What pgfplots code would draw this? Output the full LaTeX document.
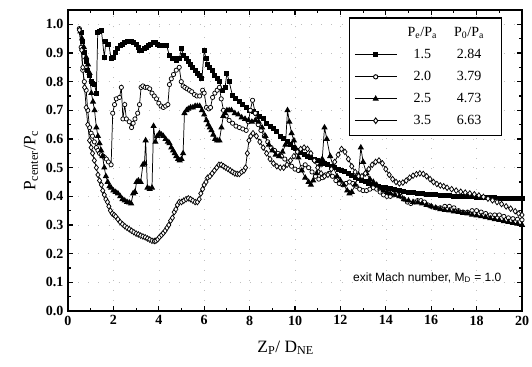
\documentclass[border=0pt]{standalone}
\usepackage{fontspec}
\setmainfont{Liberation Serif}
\newfontfamily\sansf{Liberation Sans}
\usepackage{pgfplots}
\pgfplotsset{compat=1.18}
\begin{document}
\begin{tikzpicture}
\begin{axis}[name=ax, scale only axis, width=340.5pt, height=225.75pt,
 xmin=0, xmax=20, ymin=0, ymax=1.05,
 xtick={0,2,4,6,8,10,12,14,16,18,20}, minor x tick num=1,
 ytick={0,0.1,0.2,0.3,0.4,0.5,0.6,0.7,0.8,0.9,1.0}, minor y tick num=1,
 tick align=inside, major tick length=4pt, minor tick length=2.5pt,
 axis line style={line width=1pt}, tick style={line width=0.8pt, black},
 grid=major, grid style={dash pattern=on 0.6pt off 7pt, gray!50},
 /pgf/number format/assume math mode=true,
 ticklabel style={font=\bfseries\fontsize{10.5}{12}\selectfont},
 yticklabel style={/pgf/number format/.cd,fixed,fixed zerofill,precision=1},
 xticklabel style={/pgf/number format/.cd,fixed,precision=0},
 xlabel={Z\textsubscript{P}/ D\textsubscript{NE}},
 ylabel={P\textsubscript{center}/P\textsubscript{c}},
 label style={font=\fontsize{13}{15}\selectfont},
 xlabel style={xshift=-7pt, yshift=-5pt},
 ylabel style={yshift=-1pt},
 legend style={at={(axis cs:19.1,1.024)}, anchor=north east, draw=black, line width=0.8pt,
   font=\fontsize{10.5}{12}\selectfont, row sep=4pt, inner xsep=4pt, inner ysep=5pt},
 legend cell align=left,
 legend image code/.code={\draw[mark repeat=2,mark phase=2,line width=0.7pt] plot coordinates {(0cm,0cm) (0.55cm,0cm) (1.1cm,0cm)};},
 every axis plot/.append style={black, line width=0.55pt, mark size=1.5pt, mark options={solid, line width=0.75pt}},
]
\addlegendimage{empty legend}
\addlegendentry{\makebox[34pt][c]{P\textsubscript{e}/P\textsubscript{a}}\makebox[36pt][c]{P\textsubscript{0}/P\textsubscript{a}}}

\addplot[mark=square*, mark size=1.5pt] coordinates {
(0.58,0.97)(0.65,0.94)(0.73,0.90)(0.8,0.87)(0.87,0.84)(0.95,0.82)(1.03,0.80)(1.1,0.795)(1.17,0.79)(1.25,0.76)(1.31,0.97)(1.39,0.975)(1.47,0.98)(1.6,0.885)(1.67,0.94)(1.8,0.93)(1.9,0.88)(2.0,0.885)(2.1,0.90)(2.2,0.915)(2.3,0.925)(2.4,0.93)(2.5,0.935)(2.6,0.94)(2.7,0.94)(2.8,0.94)(2.9,0.935)(3.0,0.93)(3.1,0.92)(3.15,0.91)(3.25,0.91)(3.35,0.915)(3.45,0.92)(3.55,0.925)(3.65,0.93)(3.75,0.935)(3.85,0.935)(3.95,0.93)(4.05,0.925)(4.15,0.925)(4.25,0.925)(4.35,0.925)(4.47,0.89)(4.6,0.88)(4.7,0.88)(4.8,0.875)(4.9,0.88)(5.0,0.915)(5.1,0.89)(5.2,0.88)(5.3,0.87)(5.4,0.86)(5.5,0.85)(5.6,0.84)(5.7,0.83)(5.8,0.82)(5.9,0.81)(6.0,0.91)(6.08,0.88)(6.15,0.86)(6.25,0.85)(6.37,0.84)(6.47,0.82)(6.57,0.81)(6.67,0.80)(6.8,0.77)(6.92,0.78)(7.0,0.83)(7.1,0.80)(7.25,0.75)(7.4,0.74)(7.55,0.73)(7.7,0.72)(7.85,0.71)(8.0,0.70)(8.15,0.695)(8.3,0.69)(8.45,0.68)(8.6,0.67)(8.75,0.655)(8.9,0.645)(9.05,0.635)(9.2,0.625)(9.35,0.61)(9.5,0.60)(9.65,0.59)(9.8,0.58)(9.95,0.57)(10.1,0.56)(10.25,0.553)(10.4,0.545)(10.55,0.54)(10.7,0.535)(10.85,0.53)(11.0,0.525)(11.15,0.52)(11.3,0.515)(11.45,0.51)(11.6,0.505)(11.75,0.50)(11.9,0.495)(12.05,0.49)(12.2,0.485)(12.35,0.478)(12.5,0.472)(12.65,0.467)(12.8,0.461)(12.95,0.456)(13.1,0.451)(13.25,0.446)(13.4,0.442)(13.55,0.438)(13.7,0.435)(13.85,0.432)(14.0,0.43)(14.2,0.427)(14.4,0.424)(14.6,0.421)(14.8,0.418)(15.0,0.415)(15.2,0.413)(15.4,0.411)(15.6,0.409)(15.8,0.407)(16.0,0.406)(16.2,0.405)(16.4,0.404)(16.6,0.403)(16.8,0.402)(17.0,0.401)(17.2,0.40)(17.4,0.40)(17.6,0.399)(17.8,0.398)(18.0,0.397)(18.2,0.397)(18.4,0.396)(18.6,0.395)(18.8,0.395)(19.0,0.394)(19.2,0.393)(19.4,0.393)(19.6,0.392)(19.8,0.392)(20.0,0.391)
};
\addlegendentry{\makebox[34pt][c]{1.5}\makebox[36pt][c]{2.84}}

\addplot[mark=*, mark size=1.6pt, mark options={fill=white}] coordinates {
(0.5,0.985)(0.58,0.92)(0.65,0.84)(0.72,0.80)(0.8,0.77)(0.87,0.70)(0.95,0.64)(1.02,0.62)(1.08,0.61)(1.16,0.59)(1.25,0.57)(1.32,0.56)(1.39,0.55)(1.47,0.545)(1.55,0.54)(1.62,0.535)(1.69,0.53)(1.78,0.52)(1.9,0.51)(1.97,0.69)(2.05,0.72)(2.13,0.74)(2.27,0.745)(2.35,0.78)(2.42,0.67)(2.5,0.72)(2.57,0.67)(2.7,0.66)(2.8,0.64)(2.87,0.655)(2.95,0.67)(3.07,0.69)(3.15,0.72)(3.22,0.78)(3.3,0.785)(3.4,0.78)(3.5,0.78)(3.6,0.775)(3.7,0.76)(3.8,0.75)(3.9,0.74)(4.0,0.725)(4.1,0.715)(4.2,0.71)(4.3,0.715)(4.4,0.72)(4.47,0.79)(4.55,0.81)(4.65,0.825)(4.77,0.84)(4.9,0.85)(4.99,0.80)(5.07,0.785)(5.15,0.78)(5.25,0.775)(5.35,0.77)(5.45,0.765)(5.57,0.755)(5.68,0.75)(5.8,0.75)(5.93,0.77)(6.0,0.76)(6.1,0.71)(6.2,0.705)(6.28,0.71)(6.37,0.745)(6.47,0.76)(6.57,0.77)(6.67,0.78)(6.75,0.74)(6.85,0.70)(6.97,0.68)(7.1,0.665)(7.25,0.655)(7.4,0.645)(7.55,0.64)(7.7,0.635)(7.85,0.63)(7.95,0.66)(8.03,0.70)(8.13,0.735)(8.25,0.69)(8.38,0.65)(8.5,0.63)(8.65,0.61)(8.8,0.59)(8.95,0.57)(9.1,0.56)(9.25,0.55)(9.4,0.54)(9.55,0.53)(9.7,0.52)(9.85,0.505)(10.0,0.495)(10.15,0.49)(10.3,0.50)(10.45,0.51)(10.6,0.50)(10.75,0.485)(10.9,0.47)(11.05,0.46)(11.2,0.465)(11.35,0.475)(11.5,0.48)(11.65,0.47)(11.8,0.455)(11.95,0.445)(12.1,0.44)(12.25,0.445)(12.4,0.45)(12.55,0.445)(12.7,0.435)(12.85,0.425)(13.0,0.42)(13.15,0.42)(13.3,0.425)(13.45,0.43)(13.6,0.425)(13.75,0.415)(13.9,0.405)(14.05,0.40)(14.2,0.40)(14.35,0.405)(14.5,0.405)(14.65,0.40)(14.8,0.39)(14.95,0.38)(15.1,0.375)(15.25,0.38)(15.4,0.385)(15.55,0.385)(15.7,0.38)(15.85,0.37)(16.0,0.365)(16.2,0.36)(16.4,0.36)(16.6,0.365)(16.8,0.365)(17.0,0.36)(17.2,0.35)(17.4,0.345)(17.6,0.345)(17.8,0.35)(18.0,0.35)(18.2,0.345)(18.4,0.34)(18.6,0.335)(18.8,0.335)(19.0,0.335)(19.2,0.33)(19.4,0.325)(19.6,0.322)(19.8,0.32)(20.0,0.318)
};
\addlegendentry{\makebox[34pt][c]{2.0}\makebox[36pt][c]{3.79}}

\addplot[mark=triangle*, mark size=2.0pt] coordinates {
(0.55,0.975)(0.62,0.95)(0.7,0.92)(0.8,0.885)(0.88,0.86)(0.95,0.83)(1.03,0.76)(1.1,0.73)(1.17,0.70)(1.25,0.64)(1.32,0.61)(1.39,0.585)(1.46,0.56)(1.52,0.54)(1.6,0.50)(1.67,0.47)(1.75,0.45)(1.83,0.435)(1.9,0.43)(2.0,0.42)(2.1,0.415)(2.2,0.41)(2.3,0.40)(2.4,0.39)(2.5,0.385)(2.6,0.38)(2.7,0.378)(2.78,0.375)(2.87,0.41)(2.95,0.415)(3.02,0.45)(3.1,0.455)(3.2,0.45)(3.3,0.51)(3.37,0.515)(3.42,0.595)(3.5,0.43)(3.6,0.425)(3.7,0.43)(3.77,0.645)(3.85,0.59)(3.93,0.61)(4.03,0.62)(4.12,0.615)(4.2,0.61)(4.3,0.60)(4.4,0.59)(4.47,0.585)(4.55,0.57)(4.63,0.56)(4.7,0.55)(4.77,0.54)(4.85,0.53)(4.92,0.525)(5.0,0.53)(5.07,0.55)(5.13,0.69)(5.22,0.70)(5.3,0.705)(5.4,0.71)(5.5,0.71)(5.6,0.715)(5.7,0.715)(5.8,0.715)(5.9,0.70)(6.0,0.685)(6.1,0.665)(6.18,0.65)(6.25,0.64)(6.32,0.63)(6.4,0.615)(6.48,0.60)(6.57,0.595)(6.67,0.595)(6.76,0.64)(6.84,0.68)(6.92,0.69)(7.0,0.70)(7.1,0.70)(7.2,0.70)(7.35,0.69)(7.5,0.685)(7.65,0.675)(7.8,0.67)(7.95,0.665)(8.1,0.66)(8.25,0.665)(8.4,0.66)(8.55,0.64)(8.7,0.61)(8.85,0.58)(9.0,0.56)(9.15,0.545)(9.3,0.54)(9.45,0.555)(9.58,0.58)(9.67,0.70)(9.75,0.66)(9.85,0.62)(9.95,0.595)(10.05,0.565)(10.15,0.535)(10.3,0.49)(10.45,0.465)(10.6,0.45)(10.7,0.44)(10.8,0.455)(10.95,0.48)(11.1,0.51)(11.2,0.53)(11.3,0.64)(11.4,0.60)(11.55,0.54)(11.7,0.50)(11.85,0.47)(12.0,0.455)(12.15,0.44)(12.3,0.42)(12.4,0.41)(12.5,0.415)(12.65,0.44)(12.8,0.475)(12.9,0.57)(13.0,0.52)(13.15,0.48)(13.3,0.46)(13.45,0.45)(13.6,0.44)(13.75,0.43)(13.9,0.42)(14.05,0.415)(14.2,0.41)(14.4,0.405)(14.6,0.40)(14.8,0.39)(15.0,0.385)(15.2,0.38)(15.4,0.378)(15.6,0.375)(15.8,0.37)(16.0,0.365)(16.2,0.36)(16.4,0.355)(16.6,0.352)(16.8,0.35)(17.0,0.347)(17.2,0.345)(17.4,0.342)(17.6,0.34)(17.8,0.336)(18.0,0.333)(18.2,0.33)(18.4,0.327)(18.6,0.323)(18.8,0.32)(19.0,0.317)(19.2,0.313)(19.4,0.31)(19.6,0.307)(19.8,0.304)(20.0,0.30)
};
\addlegendentry{\makebox[34pt][c]{2.5}\makebox[36pt][c]{4.73}}

\addplot[mark=diamond*, mark size=2.1pt, mark options={fill=white}] coordinates {
(0.5,0.98)(0.6,0.91)(0.65,0.85)(0.73,0.78)(0.8,0.71)(0.87,0.65)(0.95,0.595)(1.02,0.57)(1.08,0.55)(1.16,0.525)(1.25,0.50)(1.32,0.475)(1.39,0.455)(1.47,0.44)(1.53,0.42)(1.6,0.405)(1.67,0.39)(1.74,0.38)(1.8,0.365)(1.87,0.35)(1.95,0.34)(2.03,0.335)(2.1,0.33)(2.2,0.32)(2.3,0.31)(2.4,0.303)(2.5,0.296)(2.6,0.29)(2.7,0.285)(2.8,0.28)(2.9,0.275)(3.0,0.27)(3.1,0.267)(3.2,0.263)(3.3,0.26)(3.4,0.257)(3.5,0.253)(3.6,0.249)(3.7,0.245)(3.8,0.244)(3.87,0.245)(3.95,0.25)(4.03,0.258)(4.12,0.265)(4.2,0.272)(4.28,0.28)(4.36,0.29)(4.44,0.30)(4.52,0.315)(4.6,0.325)(4.68,0.345)(4.75,0.355)(4.82,0.37)(4.9,0.38)(5.0,0.38)(5.1,0.385)(5.2,0.39)(5.3,0.393)(5.4,0.39)(5.5,0.385)(5.6,0.38)(5.7,0.38)(5.78,0.39)(5.85,0.41)(5.93,0.425)(6.0,0.44)(6.08,0.45)(6.15,0.465)(6.25,0.47)(6.35,0.48)(6.45,0.49)(6.55,0.50)(6.65,0.51)(6.75,0.51)(6.85,0.505)(6.95,0.50)(7.05,0.495)(7.15,0.49)(7.25,0.485)(7.35,0.48)(7.45,0.478)(7.55,0.478)(7.65,0.485)(7.75,0.49)(7.82,0.50)(7.9,0.55)(7.97,0.595)(8.05,0.61)(8.15,0.62)(8.3,0.61)(8.45,0.59)(8.6,0.57)(8.75,0.55)(8.9,0.53)(9.05,0.515)(9.2,0.505)(9.35,0.50)(9.5,0.50)(9.65,0.51)(9.8,0.525)(9.95,0.54)(10.1,0.555)(10.25,0.565)(10.4,0.57)(10.55,0.565)(10.7,0.55)(10.85,0.525)(11.0,0.50)(11.15,0.48)(11.3,0.47)(11.45,0.475)(11.6,0.495)(11.75,0.52)(11.9,0.545)(12.05,0.565)(12.2,0.555)(12.35,0.53)(12.5,0.505)(12.65,0.485)(12.8,0.47)(12.95,0.47)(13.1,0.48)(13.25,0.495)(13.4,0.51)(13.55,0.52)(13.7,0.525)(13.85,0.515)(14.0,0.495)(14.15,0.475)(14.3,0.46)(14.45,0.45)(14.6,0.445)(14.75,0.448)(14.9,0.455)(15.05,0.465)(15.2,0.472)(15.35,0.477)(15.5,0.48)(15.65,0.478)(15.8,0.47)(15.95,0.46)(16.1,0.45)(16.25,0.443)(16.4,0.438)(16.55,0.435)(16.7,0.43)(16.9,0.425)(17.1,0.42)(17.3,0.416)(17.5,0.413)(17.7,0.41)(17.9,0.407)(18.1,0.403)(18.3,0.398)(18.5,0.392)(18.7,0.386)(18.9,0.38)(19.1,0.373)(19.3,0.365)(19.5,0.357)(19.7,0.348)(19.85,0.34)(20.0,0.335)
};
\addlegendentry{\makebox[34pt][c]{3.5}\makebox[36pt][c]{6.63}}

\node[anchor=east, font=\sansf\fontsize{9}{11}\selectfont] at (axis cs:19.3,0.115) {exit Mach number, M\textsubscript{D} = 1.0};
\end{axis}
\pgfresetboundingbox
\path (ax.south west) ++(-51pt,-42pt) rectangle ([shift={(7.5pt,7.5pt)}]ax.north east);
\end{tikzpicture}
\end{document}
